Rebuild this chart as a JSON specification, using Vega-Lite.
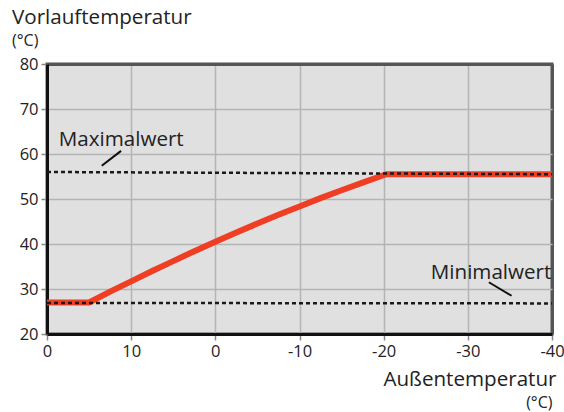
{
  "$schema": "https://vega.github.io/schema/vega-lite/v6.json",
  "autosize": {"type": "none"},
  "width": 505,
  "height": 270,
  "padding": {"left": 47, "top": 64, "right": 12, "bottom": 78},
  "background": "white",
  "title": {
    "text": "Vorlauftemperatur",
    "subtitle": "\u00a0(°C)",
    "anchor": "start",
    "frame": "group",
    "orient": "top",
    "dx": -35,
    "offset": 7,
    "font": "Open Sans",
    "fontSize": 20.6,
    "fontWeight": "normal",
    "color": "#222",
    "subtitleFont": "Open Sans",
    "subtitleFontSize": 16,
    "subtitleColor": "#222",
    "subtitlePadding": 4
  },
  "datasets": {
    "curve": [
      {"x": 20, "y": 27},
      {"x": 15, "y": 27},
      {"x": 12.5, "y": 29.4},
      {"x": 10, "y": 31.7},
      {"x": 7.5, "y": 34.0},
      {"x": 5, "y": 36.2},
      {"x": 2.5, "y": 38.4},
      {"x": 0, "y": 40.5},
      {"x": -2.5, "y": 42.55},
      {"x": -5, "y": 44.55},
      {"x": -7.5, "y": 46.5},
      {"x": -10, "y": 48.35},
      {"x": -12.5, "y": 50.2},
      {"x": -15, "y": 51.95},
      {"x": -17.5, "y": 53.65},
      {"x": -20.3, "y": 55.5},
      {"x": -40, "y": 55.5}
    ],
    "limits": [
      {"line": "Maximalwert", "x": 20, "y": 56},
      {"line": "Maximalwert", "x": -40, "y": 55.5},
      {"line": "Minimalwert", "x": 20, "y": 26.9},
      {"line": "Minimalwert", "x": -40, "y": 26.8}
    ],
    "leaders": [
      {"line": "Maximalwert", "x": 13.5, "y": 57.4, "x2": 11.2, "y2": 60.7},
      {"line": "Minimalwert", "x": -32.5, "y": 31.5, "x2": -35.2, "y2": 28.5}
    ],
    "labels": [
      {"text": "Maximalwert", "x": 18.6, "y": 61.8},
      {"text": "Minimalwert", "x": -25.6, "y": 32.2}
    ]
  },
  "layer": [
    {
      "data": {"name": "curve"},
      "mark": {"type": "line", "color": "#f03e25", "strokeWidth": 6, "strokeJoin": "round"},
      "encoding": {
        "x": {
          "field": "x", "type": "quantitative",
          "scale": {"domain": [-40, 20], "reverse": true, "nice": false, "zero": false},
          "axis": {
            "values": [20, 10, 0, -10, -20, -30, -40],
            "labelExpr": "datum.value == 20 ? '0' : '' + datum.value",
            "title": "Außentemperatur",
            "titleX": 509,
            "titleY": 51,
            "titleAlign": "right",
            "titleBaseline": "alphabetic",
            "titleFontSize": 20.6,
            "gridColor": {"condition": {"test": "datum.value == -40", "value": "#555"}, "value": "#b4b4b4"},
            "gridWidth": {"condition": {"test": "datum.value == -40", "value": 3}, "value": 1.5}
          }
        },
        "y": {
          "field": "y", "type": "quantitative",
          "scale": {"domain": [20, 80], "nice": false, "zero": false},
          "axis": {
            "values": [20, 30, 40, 50, 60, 70, 80],
            "title": "(°C)",
            "titleAngle": 0,
            "titleX": 505,
            "titleY": 343,
            "titleAlign": "right",
            "titleBaseline": "alphabetic",
            "titleFontSize": 16,
            "gridColor": {"condition": {"test": "datum.value == 80", "value": "#555"}, "value": "#b4b4b4"},
            "gridWidth": {"condition": {"test": "datum.value == 80", "value": 3}, "value": 1.5}
          }
        }
      }
    },
    {
      "data": {"name": "limits"},
      "mark": {"type": "line", "color": "#1a1a1a", "strokeWidth": 2.5, "strokeDash": [4, 3]},
      "encoding": {
        "x": {"field": "x", "type": "quantitative"},
        "y": {"field": "y", "type": "quantitative"},
        "detail": {"field": "line"}
      }
    },
    {
      "data": {"name": "leaders"},
      "mark": {"type": "rule", "color": "#111", "strokeWidth": 2},
      "encoding": {
        "x": {"field": "x", "type": "quantitative"},
        "y": {"field": "y", "type": "quantitative"},
        "x2": {"field": "x2"},
        "y2": {"field": "y2"}
      }
    },
    {
      "data": {"name": "labels"},
      "mark": {"type": "text", "align": "left", "baseline": "alphabetic", "font": "Open Sans", "fontSize": 20.6, "color": "#222"},
      "encoding": {
        "x": {"field": "x", "type": "quantitative"},
        "y": {"field": "y", "type": "quantitative"},
        "text": {"field": "text"}
      }
    }
  ],
  "config": {
    "view": {"fill": "#e0e0e0", "stroke": "#555", "strokeWidth": 3},
    "axis": {
      "labelFont": "Open Sans",
      "labelFontSize": 16.5,
      "labelColor": "#222",
      "labelFlush": false,
      "labelOverlap": false,
      "titleFont": "Open Sans",
      "titleFontWeight": "normal",
      "titleColor": "#222",
      "domainColor": "#111",
      "domainWidth": 3,
      "tickColor": "#888",
      "tickWidth": 1.5,
      "tickSize": 6,
      "labelPadding": 3,
      "grid": true
    }
  }
}
